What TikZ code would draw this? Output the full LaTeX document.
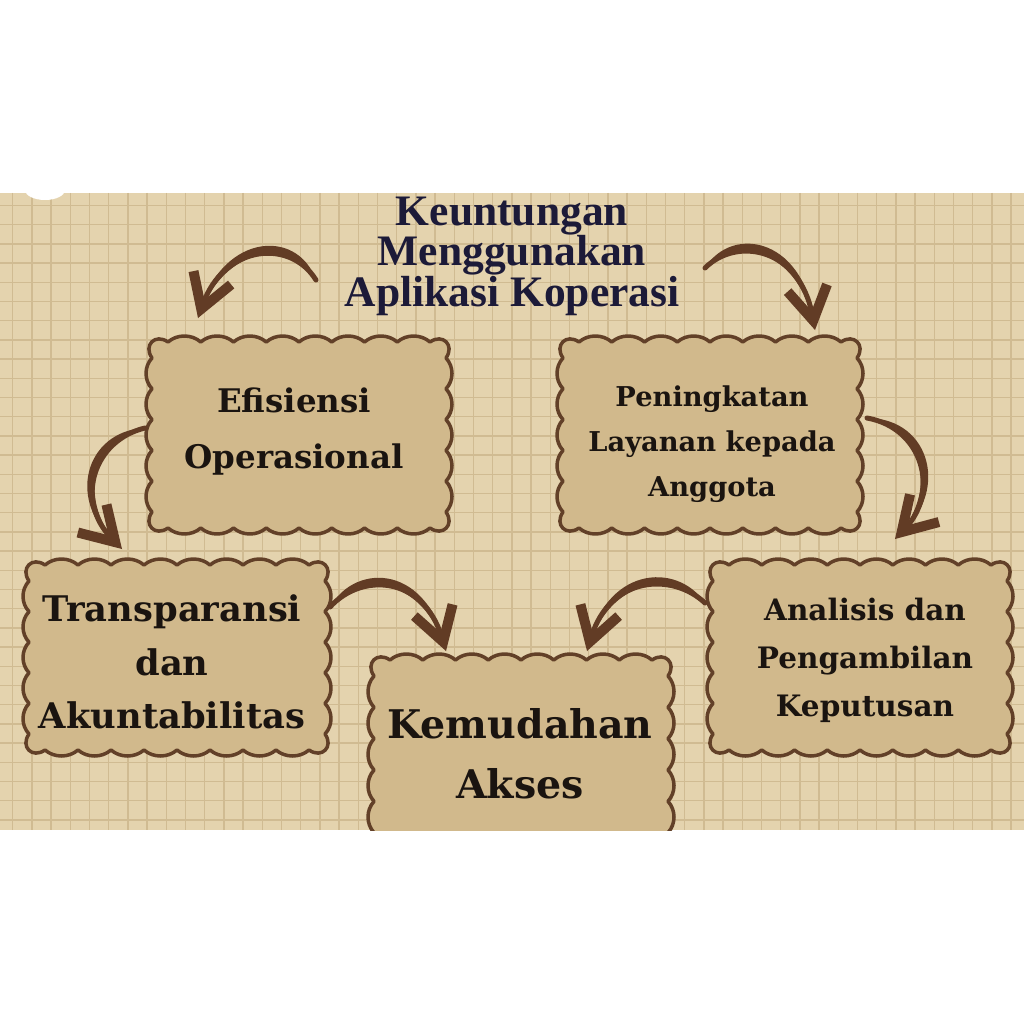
\documentclass[tikz,border=0pt]{standalone}
\usepackage{fontspec}
\newfontfamily\boxfont{DejaVu Serif}
\newfontfamily\titlefont{Liberation Serif}
\usetikzlibrary{arrows.meta,calc}
\definecolor{paper}{RGB}{228,211,174}
\definecolor{gridc}{RGB}{208,187,146}
\definecolor{boxfill}{RGB}{209,185,140}
\definecolor{boxline}{RGB}{98,64,40}
\definecolor{arrowc}{RGB}{98,60,37}
\definecolor{titlec}{RGB}{28,26,56}
\definecolor{textc}{RGB}{26,20,16}
\def\bxC{16}\def\bxS{8}\def\bxK{9}\def\bxF{0.28}
\newcommand{\scallopbox}[6]{%
  \pgfmathsetmacro\bxL{#1}%
  \pgfmathsetmacro\bxT{#2}%
  \pgfmathsetmacro\bxR{#3}%
  \pgfmathsetmacro\bxB{#4}%
  \pgfmathsetmacro\bxW{(\bxR-\bxL-2*\bxC)/#5}%
  \pgfmathsetmacro\bxH{(\bxB-\bxT-2*\bxC)/#6}%
  \path[scallop] (\bxL+\bxC,\bxT)
   \foreach \i in {1,...,#5}{ .. controls ({\bxL+\bxC+(\i-1+\bxF)*\bxW},{\bxT-\bxS}) and ({\bxL+\bxC+(\i-\bxF)*\bxW},{\bxT-\bxS}) .. ({\bxL+\bxC+\i*\bxW},\bxT) }
   .. controls ({\bxR-0.2*\bxC},{\bxT-\bxK}) and ({\bxR+\bxK},{\bxT+0.2*\bxC}) .. (\bxR,\bxT+\bxC)
   \foreach \i in {1,...,#6}{ .. controls ({\bxR+\bxS},{\bxT+\bxC+(\i-1+\bxF)*\bxH}) and ({\bxR+\bxS},{\bxT+\bxC+(\i-\bxF)*\bxH}) .. (\bxR,{\bxT+\bxC+\i*\bxH}) }
   .. controls ({\bxR+\bxK},{\bxB-0.2*\bxC}) and ({\bxR-0.2*\bxC},{\bxB+\bxK}) .. (\bxR-\bxC,\bxB)
   \foreach \i in {1,...,#5}{ .. controls ({\bxR-\bxC-(\i-1+\bxF)*\bxW},{\bxB+\bxS}) and ({\bxR-\bxC-(\i-\bxF)*\bxW},{\bxB+\bxS}) .. ({\bxR-\bxC-\i*\bxW},\bxB) }
   .. controls ({\bxL+0.2*\bxC},{\bxB+\bxK}) and ({\bxL-\bxK},{\bxB-0.2*\bxC}) .. (\bxL,\bxB-\bxC)
   \foreach \i in {1,...,#6}{ .. controls ({\bxL-\bxS},{\bxB-\bxC-(\i-1+\bxF)*\bxH}) and ({\bxL-\bxS},{\bxB-\bxC-(\i-\bxF)*\bxH}) .. (\bxL,{\bxB-\bxC-\i*\bxH}) }
   .. controls ({\bxL-\bxK},{\bxT+0.2*\bxC}) and ({\bxL+0.2*\bxC},{\bxT-\bxK}) .. (\bxL+\bxC,\bxT) -- cycle;
}
% tapered curved arrow: start, control1, control2, end
\newcommand{\tarrow}[4]{%
  \fill[arrowc] (#1) .. controls (#2) and (#3) .. (#4)
    .. controls ($(#1)!0.5!(#4)!1.2!(#3)$) and ($(#1)!0.5!(#4)!1.2!(#2)$) .. (#1) -- cycle;
  \draw[flow] (#1) .. controls (#2) and (#3) .. (#4);
}
\begin{document}
\begin{tikzpicture}[x=1pt,y=-1pt,
  scallop/.style={fill=boxfill,draw=boxline,line width=3.5pt,line join=round},
  gridline/.style={draw=gridc,line width=1.3pt},
  flow/.style={draw=arrowc,line width=5pt,line cap=round,
    -{Straight Barb[length=33pt,width=40pt,line width=10pt]}},
  boxtext/.style={text=textc,align=center,inner sep=0pt,font=\boxfont\bfseries},
  titletext/.style={text=titlec,align=center,inner sep=0pt}]
\useasboundingbox (0,0) rectangle (1024,1024);
\fill[white] (0,0) rectangle (1024,1024);
\begin{scope}
\clip (0,193) rectangle (1024,830);
\fill[paper] (0,193) rectangle (1024,830);
\foreach \gx in {12.7,31.9,...,1024} \draw[gridline] (\gx,193) -- (\gx,830);
\foreach \gy in {205.5,224.7,...,830} \draw[gridline] (0,\gy) -- (1024,\gy);
\fill[white] (45,190) ellipse (20 and 10);
\scallopbox{152}{342}{446}{528}{8}{5}
\scallopbox{563}{342}{857}{528}{8}{5}
\scallopbox{29}{565}{325}{750}{8}{5}
\scallopbox{713}{565}{1007}{750}{8}{5}
\scallopbox{374}{660}{668}{880}{8}{6}
\end{scope}
% title
\node[titletext,font=\titlefont\bfseries\fontsize{43.5}{40.5}\selectfont] (title) at (512,256)
  {Keuntungan\\Menggunakan\\Aplikasi Koperasi};
% boxes
\node[boxtext,font=\boxfont\bfseries\fontsize{32.5}{56}\selectfont] (eff) at (294,432) {Efisiensi\\Operasional};
\node[boxtext,font=\boxfont\bfseries\fontsize{27.3}{45}\selectfont] (pen) at (712,444) {Peningkatan\\Layanan kepada\\Anggota};
\node[boxtext,font=\boxfont\bfseries\fontsize{35.3}{53.5}\selectfont] (tra) at (172,662) {Transparansi\\dan\\Akuntabilitas};
\node[boxtext,font=\boxfont\bfseries\fontsize{29.5}{48}\selectfont] (ana) at (865,660) {Analisis dan\\Pengambilan\\Keputusan};
\node[boxtext,font=\boxfont\bfseries\fontsize{39.5}{60}\selectfont] (kem) at (520,754) {Kemudahan\\Akses};
% arrows
\coordinate (a1s) at (316,280); \coordinate (a1e) at (198,318);
\coordinate (a2s) at (705,268); \coordinate (a2e) at (815,330);
\coordinate (a3s) at (145,428); \coordinate (a3e) at (122,549);
\coordinate (a4s) at (867,418); \coordinate (a4e) at (895,539);
\coordinate (a5s) at (330,607); \coordinate (a5e) at (446,651);
\coordinate (a6s) at (705,603); \coordinate (a6e) at (587,651);
\coordinate (a1c) at (290,238); \coordinate (a1d) at (224,245);
\coordinate (a2c) at (737,236); \coordinate (a2d) at (800,248);
\coordinate (a3c) at (94,440);  \coordinate (a3d) at (74,500);
\coordinate (a4c) at (923,428); \coordinate (a4d) at (940,492);
\coordinate (a5c) at (362,572); \coordinate (a5d) at (423,576);
\coordinate (a6c) at (672,572); \coordinate (a6d) at (610,576);
\tarrow{a1s}{a1c}{a1d}{a1e}
\tarrow{a2s}{a2c}{a2d}{a2e}
\tarrow{a3s}{a3c}{a3d}{a3e}
\tarrow{a4s}{a4c}{a4d}{a4e}
\tarrow{a5s}{a5c}{a5d}{a5e}
\tarrow{a6s}{a6c}{a6d}{a6e}
\end{tikzpicture}
\end{document}
